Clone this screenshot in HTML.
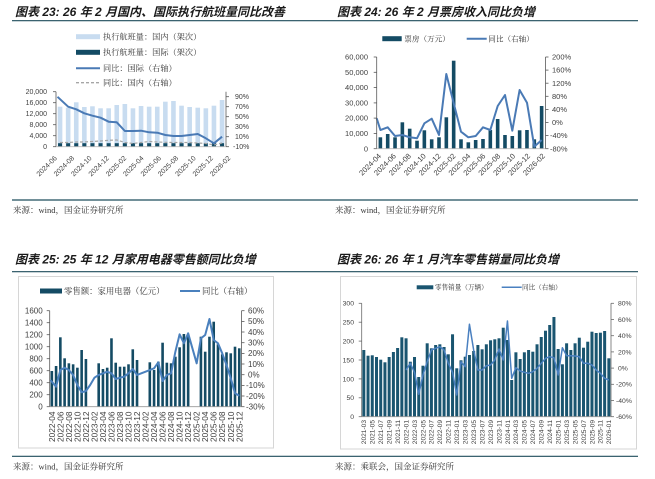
<!DOCTYPE html>
<html><head><meta charset="utf-8">
<style>
html,body{margin:0;padding:0;background:#fff;}
svg{display:block;}
.t{font-family:"Liberation Sans","Noto Sans CJK SC",sans-serif;font-weight:bold;font-style:italic;font-size:12px;fill:#1a1a1a;}
.s{font-family:"Liberation Serif","Noto Serif CJK SC",serif;font-size:8.5px;fill:#333;}
.lg{font-family:"Liberation Serif","Noto Serif CJK SC",serif;fill:#333;}
.ax{font-family:"Liberation Sans",sans-serif;fill:#404040;}
</style></head><body>
<svg width="655" height="479" viewBox="0 0 655 479" xmlns="http://www.w3.org/2000/svg">
<!-- rules -->
<g stroke="#1f4d5c" stroke-width="1.2">
<line x1="12" y1="20.7" x2="638" y2="20.7"/>
<line x1="12" y1="200" x2="638" y2="200"/>
<line x1="12" y1="271.7" x2="638" y2="271.7"/>
<line x1="12" y1="456.3" x2="638" y2="456.3"/>
</g>
<text class="t" x="15" y="16">图表 23: 26 年 2 月国内、国际执行航班量同比改善</text>
<text class="t" x="337" y="16">图表 24: 26 年 2 月票房收入同比负增</text>
<text class="t" x="15" y="263.5">图表 25: 25 年 12 月家用电器零售额同比负增</text>
<text class="t" x="337" y="263.5">图表 26: 26 年 1 月汽车零售销量同比负增</text>
<text class="s" x="13" y="213">来源：wind，国金证券研究所</text>
<text class="s" x="335" y="213">来源：wind，国金证券研究所</text>
<text class="s" x="13" y="469.5">来源：wind，国金证券研究所</text>
<text class="s" x="335" y="469.5">来源：乘联会，国金证券研究所</text>

<!-- ============ Chart 23 ============ -->
<g class="lg" font-size="8.2">
<rect x="76" y="34.2" width="24" height="5" fill="#c8dcf0"/>
<text x="103" y="39.5">执行航班量：国内（架次）</text>
<rect x="76" y="49.8" width="24" height="5" fill="#134b64"/>
<text x="103" y="55">执行航班量：国际（架次）</text>
<line x1="76" y1="68.3" x2="100" y2="68.3" stroke="#4a7ab5" stroke-width="2"/>
<text x="103" y="71.2">同比：国际（右轴）</text>
<line x1="76" y1="82.7" x2="100" y2="82.7" stroke="#a6a6a6" stroke-width="1.3" stroke-dasharray="3,2"/>
<text x="103" y="85.6">同比：国内（右轴）</text>
</g>
<g fill="#c8dcf0">
<rect x="57.75" y="106.7" width="4.6" height="40"/>
<rect x="65.85" y="107.7" width="4.6" height="39"/>
<rect x="73.95" y="102.3" width="4.6" height="44.4"/>
<rect x="82.05" y="107" width="4.6" height="39.7"/>
<rect x="90.15" y="106.3" width="4.6" height="40.4"/>
<rect x="98.25" y="108.3" width="4.6" height="38.4"/>
<rect x="106.35" y="108.3" width="4.6" height="38.4"/>
<rect x="114.45" y="105" width="4.6" height="41.7"/>
<rect x="122.55" y="104" width="4.6" height="42.7"/>
<rect x="130.65" y="108.3" width="4.6" height="38.4"/>
<rect x="138.75" y="106" width="4.6" height="40.7"/>
<rect x="146.85" y="106.7" width="4.6" height="40"/>
<rect x="154.95" y="106.7" width="4.6" height="40"/>
<rect x="163.05" y="101.7" width="4.6" height="45"/>
<rect x="171.15" y="101" width="4.6" height="45.7"/>
<rect x="179.25" y="105.7" width="4.6" height="41"/>
<rect x="187.35" y="107" width="4.6" height="39.7"/>
<rect x="195.45" y="107.7" width="4.6" height="39"/>
<rect x="203.55" y="108.3" width="4.6" height="38.4"/>
<rect x="211.65" y="105.7" width="4.6" height="41"/>
<rect x="219.75" y="100" width="4.6" height="46.7"/>
</g>
<g fill="#134b64">
<rect x="58.05" y="143.2" width="4" height="3.5"/><rect x="66.15" y="143.2" width="4" height="3.5"/>
<rect x="74.25" y="143.2" width="4" height="3.5"/><rect x="82.35" y="143.2" width="4" height="3.5"/>
<rect x="90.45" y="143.2" width="4" height="3.5"/><rect x="98.55" y="143.2" width="4" height="3.5"/>
<rect x="106.65" y="143.2" width="4" height="3.5"/><rect x="114.75" y="143.2" width="4" height="3.5"/>
<rect x="122.85" y="143.2" width="4" height="3.5"/><rect x="130.95" y="143.2" width="4" height="3.5"/>
<rect x="139.05" y="143.2" width="4" height="3.5"/><rect x="147.15" y="143.2" width="4" height="3.5"/>
<rect x="155.25" y="143.2" width="4" height="3.5"/><rect x="163.35" y="143.2" width="4" height="3.5"/>
<rect x="171.45" y="143.2" width="4" height="3.5"/><rect x="179.55" y="143.2" width="4" height="3.5"/>
<rect x="187.65" y="143.2" width="4" height="3.5"/><rect x="195.75" y="143.2" width="4" height="3.5"/>
<rect x="203.85" y="143.2" width="4" height="3.5"/><rect x="211.95" y="143.2" width="4" height="3.5"/>
<rect x="220.05" y="143.2" width="4" height="3.5"/>
</g>
<polyline fill="none" stroke="#a6a6a6" stroke-width="1.2" stroke-dasharray="3,2" points="60.05,142.5 68.15,142.5 76.25,142 84.35,142 92.45,141.5 100.55,141 108.65,140.3 116.75,140 124.85,142.5 132.95,143.5 141.05,142.5 149.15,141.5 157.25,142 165.35,142.3 173.45,142.5 181.55,142.5 189.65,142.5 197.75,143 205.85,143.5 213.95,145 222.05,143"/>
<polyline fill="none" stroke="#4a7ab5" stroke-width="2" stroke-linejoin="round" points="57.5,96.8 68.15,106.7 76.25,109.3 84.35,113.3 92.45,115.7 100.55,117.7 108.65,121.7 116.75,122.3 124.85,131 132.95,131 141.05,130.7 149.15,132.3 157.25,132.7 165.35,135 173.45,136 181.55,136 189.65,135 197.75,134 205.85,138.3 213.95,143.3 222.05,136.7"/>
<g stroke="#595959" stroke-width="0.8">
<line x1="56" y1="91.7" x2="56" y2="146.7"/>
<line x1="53" y1="91.7" x2="56" y2="91.7"/><line x1="53" y1="102.7" x2="56" y2="102.7"/><line x1="53" y1="113.7" x2="56" y2="113.7"/><line x1="53" y1="124.7" x2="56" y2="124.7"/><line x1="53" y1="135.7" x2="56" y2="135.7"/><line x1="53" y1="146.7" x2="56" y2="146.7"/>
<line x1="226" y1="91.7" x2="226" y2="146.7"/>
<line x1="226" y1="96.7" x2="229" y2="96.7"/><line x1="226" y1="106.7" x2="229" y2="106.7"/><line x1="226" y1="116.7" x2="229" y2="116.7"/><line x1="226" y1="126.7" x2="229" y2="126.7"/><line x1="226" y1="136.7" x2="229" y2="136.7"/><line x1="226" y1="146.7" x2="229" y2="146.7"/>
<line x1="56" y1="146.7" x2="226" y2="146.7" stroke="#bbb"/>
</g>
<g class="ax" font-size="7" text-anchor="end">
<text x="47" y="94.2">20,000</text><text x="47" y="105.2">16,000</text><text x="47" y="116.2">12,000</text><text x="47" y="127.2">8,000</text><text x="47" y="138.2">4,000</text><text x="47" y="149.2">0</text>
</g>
<g class="ax" font-size="7">
<text x="235" y="99.2">90%</text><text x="235" y="109.2">70%</text><text x="235" y="119.2">50%</text><text x="235" y="129.2">30%</text><text x="235" y="139.2">10%</text><text x="233" y="149.2">-10%</text>
</g>
<g class="ax" font-size="7" text-anchor="end">
<text transform="translate(57.4,158.6) rotate(-45)">2024-06</text>
<text transform="translate(74.7,158.6) rotate(-45)">2024-08</text>
<text transform="translate(92.1,158.6) rotate(-45)">2024-10</text>
<text transform="translate(109.4,158.6) rotate(-45)">2024-12</text>
<text transform="translate(126.8,158.6) rotate(-45)">2025-02</text>
<text transform="translate(144.1,158.6) rotate(-45)">2025-04</text>
<text transform="translate(161.5,158.6) rotate(-45)">2025-06</text>
<text transform="translate(178.8,158.6) rotate(-45)">2025-08</text>
<text transform="translate(196.2,158.6) rotate(-45)">2025-10</text>
<text transform="translate(213.5,158.6) rotate(-45)">2025-12</text>
<text transform="translate(230.9,158.6) rotate(-45)">2026-02</text>
</g>

<!-- ============ Chart 24 ============ -->
<g class="lg" font-size="7.6">
<rect x="382.3" y="36.2" width="19.4" height="5" fill="#144b64"/>
<text x="404.3" y="41.4">票房（万元）</text>
<line x1="466.7" y1="38.7" x2="486.7" y2="38.7" stroke="#4a7ab5" stroke-width="2"/>
<text x="488.3" y="41.4">同比（右轴）</text>
</g>
<g fill="#144b64">
<rect x="378.57" y="137.3" width="3.6" height="11.4"/>
<rect x="385.9" y="134" width="3.6" height="14.7"/>
<rect x="393.23" y="137.3" width="3.6" height="11.4"/>
<rect x="400.56" y="122.3" width="3.6" height="26.4"/>
<rect x="407.89" y="128.7" width="3.6" height="20"/>
<rect x="415.22" y="140.7" width="3.6" height="8"/>
<rect x="422.55" y="130.3" width="3.6" height="18.4"/>
<rect x="429.88" y="139.3" width="3.6" height="9.4"/>
<rect x="437.21" y="137.3" width="3.6" height="11.4"/>
<rect x="444.54" y="117.3" width="3.6" height="31.4"/>
<rect x="451.87" y="60.7" width="3.6" height="88"/>
<rect x="459.2" y="139.3" width="3.6" height="9.4"/>
<rect x="466.53" y="142.3" width="3.6" height="6.4"/>
<rect x="473.86" y="140" width="3.6" height="8.7"/>
<rect x="481.19" y="139" width="3.6" height="9.7"/>
<rect x="488.52" y="130" width="3.6" height="18.7"/>
<rect x="495.85" y="119" width="3.6" height="29.7"/>
<rect x="503.18" y="135" width="3.6" height="13.7"/>
<rect x="510.51" y="136" width="3.6" height="12.7"/>
<rect x="517.84" y="130.3" width="3.6" height="18.4"/>
<rect x="525.17" y="130" width="3.6" height="18.7"/>
<rect x="532.5" y="139.3" width="3.6" height="9.4"/>
<rect x="539.83" y="106" width="3.6" height="42.7"/>
</g>
<polyline fill="none" stroke="#4a7ab5" stroke-width="2" stroke-linejoin="round" points="376.7,118.3 380.4,130 387.7,127.3 395,136 402.4,135 409.7,137.3 417,138.3 424.4,123.3 431.7,118.7 439,135 446.3,74 453.7,103.3 461,131.7 468.3,137.3 475.7,136 483,127.3 490.3,130 497.7,106 505,95 512.3,130.7 519.6,90 527,102.7 534.3,146.7 541.6,140"/>
<g stroke="#595959" stroke-width="0.8">
<line x1="376.7" y1="57" x2="376.7" y2="148.7"/>
<line x1="373.7" y1="57" x2="376.7" y2="57"/><line x1="373.7" y1="72.3" x2="376.7" y2="72.3"/><line x1="373.7" y1="87.6" x2="376.7" y2="87.6"/><line x1="373.7" y1="102.9" x2="376.7" y2="102.9"/><line x1="373.7" y1="118.1" x2="376.7" y2="118.1"/><line x1="373.7" y1="133.4" x2="376.7" y2="133.4"/><line x1="373.7" y1="148.7" x2="376.7" y2="148.7"/>
<line x1="545.5" y1="57" x2="545.5" y2="148.7"/>
<line x1="545.5" y1="57" x2="548.5" y2="57"/><line x1="545.5" y1="70.1" x2="548.5" y2="70.1"/><line x1="545.5" y1="83.2" x2="548.5" y2="83.2"/><line x1="545.5" y1="96.3" x2="548.5" y2="96.3"/><line x1="545.5" y1="109.4" x2="548.5" y2="109.4"/><line x1="545.5" y1="122.5" x2="548.5" y2="122.5"/><line x1="545.5" y1="135.6" x2="548.5" y2="135.6"/><line x1="545.5" y1="148.7" x2="548.5" y2="148.7"/>
<line x1="376.7" y1="148.7" x2="545.5" y2="148.7" stroke="#bbb"/>
</g>
<g class="ax" font-size="7.5" text-anchor="end">
<text x="368" y="59.6">60,000</text><text x="368" y="74.9">50,000</text><text x="368" y="90.2">40,000</text><text x="368" y="105.5">30,000</text><text x="368" y="120.7">20,000</text><text x="368" y="136">10,000</text><text x="368" y="151.3">0</text>
</g>
<g class="ax" font-size="7.5">
<text x="552" y="59.6">200%</text><text x="552" y="72.7">160%</text><text x="552" y="85.8">120%</text><text x="552" y="98.9">80%</text><text x="552" y="112">40%</text><text x="552" y="125.1">0%</text><text x="550" y="138.2">-40%</text><text x="550" y="151.3">-80%</text>
</g>
<g class="ax" font-size="7.5" text-anchor="end">
<text transform="translate(381.6,156.5) rotate(-45)">2024-04</text>
<text transform="translate(396.5,156.5) rotate(-45)">2024-06</text>
<text transform="translate(411.4,156.5) rotate(-45)">2024-08</text>
<text transform="translate(426.3,156.5) rotate(-45)">2024-10</text>
<text transform="translate(441.2,156.5) rotate(-45)">2024-12</text>
<text transform="translate(456.1,156.5) rotate(-45)">2025-02</text>
<text transform="translate(471,156.5) rotate(-45)">2025-04</text>
<text transform="translate(485.9,156.5) rotate(-45)">2025-06</text>
<text transform="translate(500.8,156.5) rotate(-45)">2025-08</text>
<text transform="translate(515.7,156.5) rotate(-45)">2025-10</text>
<text transform="translate(530.6,156.5) rotate(-45)">2025-12</text>
<text transform="translate(545.5,156.5) rotate(-45)">2026-02</text>
</g>

<!-- ============ Chart 25 ============ -->
<rect x="18.5" y="276.5" width="255" height="171.5" fill="#fff" stroke="#d6d6d6" stroke-width="1"/>
<g class="lg" font-size="8.4">
<rect x="40" y="288.5" width="22" height="5" fill="#144b64"/>
<text x="64" y="294">零售额：家用电器（亿元）</text>
<line x1="180" y1="291" x2="200" y2="291" stroke="#4a80bd" stroke-width="2"/>
<text x="202" y="294">同比（右轴）</text>
</g>
<g fill="#144b64">
<rect x="50.53" y="371" width="2.6" height="35.7"/>
<rect x="54.79" y="366" width="2.6" height="40.7"/>
<rect x="59.05" y="337.3" width="2.6" height="69.4"/>
<rect x="63.31" y="358.3" width="2.6" height="48.4"/>
<rect x="67.57" y="363.3" width="2.6" height="43.4"/>
<rect x="71.83" y="364.3" width="2.6" height="42.4"/>
<rect x="76.09" y="367.7" width="2.6" height="39"/>
<rect x="80.35" y="350" width="2.6" height="56.7"/>
<rect x="84.61" y="359" width="2.6" height="47.7"/>
<rect x="97.39" y="363.3" width="2.6" height="43.4"/>
<rect x="101.65" y="369" width="2.6" height="37.7"/>
<rect x="105.91" y="367.7" width="2.6" height="39"/>
<rect x="110.17" y="338.3" width="2.6" height="68.4"/>
<rect x="114.43" y="362.7" width="2.6" height="44"/>
<rect x="118.69" y="366.7" width="2.6" height="40"/>
<rect x="122.95" y="366.7" width="2.6" height="40"/>
<rect x="127.21" y="364.3" width="2.6" height="42.4"/>
<rect x="131.47" y="349.3" width="2.6" height="57.4"/>
<rect x="135.73" y="360" width="2.6" height="46.7"/>
<rect x="148.51" y="362.3" width="2.6" height="44.4"/>
<rect x="152.77" y="370" width="2.6" height="36.7"/>
<rect x="157.03" y="361.7" width="2.6" height="45"/>
<rect x="161.29" y="342.7" width="2.6" height="64"/>
<rect x="165.55" y="362.7" width="2.6" height="44"/>
<rect x="169.81" y="363.3" width="2.6" height="43.4"/>
<rect x="174.07" y="356.7" width="2.6" height="50"/>
<rect x="178.33" y="347.3" width="2.6" height="59.4"/>
<rect x="182.59" y="334" width="2.6" height="72.7"/>
<rect x="186.85" y="335" width="2.6" height="71.7"/>
<rect x="199.63" y="336.7" width="2.6" height="70"/>
<rect x="203.89" y="351.7" width="2.6" height="55"/>
<rect x="208.15" y="336.7" width="2.6" height="70"/>
<rect x="212.41" y="321.7" width="2.6" height="85"/>
<rect x="216.67" y="344.3" width="2.6" height="62.4"/>
<rect x="220.93" y="354.3" width="2.6" height="52.4"/>
<rect x="225.19" y="352.3" width="2.6" height="54.4"/>
<rect x="229.45" y="353.3" width="2.6" height="53.4"/>
<rect x="233.71" y="346.7" width="2.6" height="60"/>
<rect x="237.97" y="348.3" width="2.6" height="58.4"/>
</g>
<polyline fill="none" stroke="#4a80bd" stroke-width="2" stroke-linejoin="round" points="50,380 51.83,381.7 56.09,386.7 60.35,370 64.61,367.7 68.87,370 73.13,375 77.39,385 81.65,392.3 85.91,391 90.17,385 94.43,377.7 98.69,375 102.95,373.3 107.21,371.7 111.47,373.3 115.73,379 119.99,377.7 124.25,376.7 128.51,373.3 132.77,369 137.03,375 141.29,373.3 145.55,371.7 149.81,370 154.07,368.3 158.33,362.3 162.59,381 166.85,375 171.11,373.3 175.37,351.7 179.63,334.3 183.89,343.3 188.15,333.3 192.41,348.3 196.67,363.3 200.93,338.3 205.19,335 209.45,319 213.71,340 217.97,343.3 222.23,353.3 226.49,365 230.75,378.3 235.01,393.3 239.27,395.7"/>
<g stroke="#595959" stroke-width="0.8">
<line x1="49.7" y1="310.7" x2="49.7" y2="406.7"/>
<line x1="46.7" y1="310.7" x2="49.7" y2="310.7"/><line x1="46.7" y1="322.7" x2="49.7" y2="322.7"/><line x1="46.7" y1="334.7" x2="49.7" y2="334.7"/><line x1="46.7" y1="346.7" x2="49.7" y2="346.7"/><line x1="46.7" y1="358.7" x2="49.7" y2="358.7"/><line x1="46.7" y1="370.7" x2="49.7" y2="370.7"/><line x1="46.7" y1="382.7" x2="49.7" y2="382.7"/><line x1="46.7" y1="394.7" x2="49.7" y2="394.7"/><line x1="46.7" y1="406.7" x2="49.7" y2="406.7"/>
<line x1="241.5" y1="310.7" x2="241.5" y2="406.7"/>
<line x1="241.5" y1="310.7" x2="244.5" y2="310.7"/><line x1="241.5" y1="321.4" x2="244.5" y2="321.4"/><line x1="241.5" y1="332" x2="244.5" y2="332"/><line x1="241.5" y1="342.7" x2="244.5" y2="342.7"/><line x1="241.5" y1="353.4" x2="244.5" y2="353.4"/><line x1="241.5" y1="364" x2="244.5" y2="364"/><line x1="241.5" y1="374.7" x2="244.5" y2="374.7"/><line x1="241.5" y1="385.4" x2="244.5" y2="385.4"/><line x1="241.5" y1="396" x2="244.5" y2="396"/><line x1="241.5" y1="406.7" x2="244.5" y2="406.7"/>
<line x1="49.7" y1="406.7" x2="241.5" y2="406.7" stroke="#999"/>
</g>
<g class="ax" font-size="8" text-anchor="end">
<text x="42.7" y="313.5">1600</text><text x="42.7" y="325.5">1400</text><text x="42.7" y="337.5">1200</text><text x="42.7" y="349.5">1000</text><text x="42.7" y="361.5">800</text><text x="42.7" y="373.5">600</text><text x="42.7" y="385.5">400</text><text x="42.7" y="397.5">200</text><text x="42.7" y="409.5">0</text>
</g>
<g class="ax" font-size="8">
<text x="248" y="313.5">60%</text><text x="248" y="324.2">50%</text><text x="248" y="334.8">40%</text><text x="248" y="345.5">30%</text><text x="248" y="356.2">20%</text><text x="248" y="366.8">10%</text><text x="248" y="377.5">0%</text><text x="246" y="388.2">-10%</text><text x="246" y="398.8">-20%</text><text x="246" y="409.5">-30%</text>
</g>
<g class="ax" font-size="8.3" text-anchor="end" fill="#333">
<text transform="translate(54.8,411.5) rotate(-90)">2022-04</text>
<text transform="translate(63.35,411.5) rotate(-90)">2022-06</text>
<text transform="translate(71.87,411.5) rotate(-90)">2022-08</text>
<text transform="translate(80.39,411.5) rotate(-90)">2022-10</text>
<text transform="translate(88.91,411.5) rotate(-90)">2022-12</text>
<text transform="translate(97.43,411.5) rotate(-90)">2023-02</text>
<text transform="translate(105.95,411.5) rotate(-90)">2023-04</text>
<text transform="translate(114.47,411.5) rotate(-90)">2023-06</text>
<text transform="translate(122.99,411.5) rotate(-90)">2023-08</text>
<text transform="translate(131.51,411.5) rotate(-90)">2023-10</text>
<text transform="translate(140.03,411.5) rotate(-90)">2023-12</text>
<text transform="translate(148.55,411.5) rotate(-90)">2024-02</text>
<text transform="translate(157.07,411.5) rotate(-90)">2024-04</text>
<text transform="translate(165.59,411.5) rotate(-90)">2024-06</text>
<text transform="translate(174.11,411.5) rotate(-90)">2024-08</text>
<text transform="translate(182.63,411.5) rotate(-90)">2024-10</text>
<text transform="translate(191.15,411.5) rotate(-90)">2024-12</text>
<text transform="translate(199.67,411.5) rotate(-90)">2025-02</text>
<text transform="translate(208.19,411.5) rotate(-90)">2025-04</text>
<text transform="translate(216.71,411.5) rotate(-90)">2025-06</text>
<text transform="translate(225.23,411.5) rotate(-90)">2025-08</text>
<text transform="translate(233.75,411.5) rotate(-90)">2025-10</text>
<text transform="translate(242.27,411.5) rotate(-90)">2025-12</text>
</g>

<!-- ============ Chart 26 ============ -->
<rect x="340.5" y="276.5" width="296" height="172.5" fill="#fff" stroke="#d6d6d6" stroke-width="1"/>
<g class="lg" font-size="6.6">
<rect x="416.7" y="285.3" width="16.6" height="4" fill="#1a5570"/>
<text x="435" y="289.6">零售销量（万辆）</text>
<line x1="501.7" y1="287.3" x2="521.7" y2="287.3" stroke="#4a80c0" stroke-width="1.5"/>
<text x="522" y="289.6">同比（右轴）</text>
</g>
<g fill="#1a5570">
<rect x="362.31" y="350" width="3" height="66.7"/>
<rect x="366.54" y="355.7" width="3" height="61"/>
<rect x="370.76" y="355.3" width="3" height="61.4"/>
<rect x="374.99" y="357" width="3" height="59.7"/>
<rect x="379.21" y="359.7" width="3" height="57"/>
<rect x="383.44" y="362.3" width="3" height="54.4"/>
<rect x="387.66" y="357" width="3" height="59.7"/>
<rect x="391.89" y="352" width="3" height="64.7"/>
<rect x="396.11" y="348" width="3" height="68.7"/>
<rect x="400.34" y="337.3" width="3" height="79.4"/>
<rect x="404.56" y="338.3" width="3" height="78.4"/>
<rect x="408.79" y="361.7" width="3" height="55"/>
<rect x="413.01" y="357" width="3" height="59.7"/>
<rect x="417.24" y="377" width="3" height="39.7"/>
<rect x="421.46" y="365.7" width="3" height="51"/>
<rect x="425.69" y="343.3" width="3" height="73.4"/>
<rect x="429.91" y="348.3" width="3" height="68.4"/>
<rect x="434.14" y="345" width="3" height="71.7"/>
<rect x="438.36" y="344.3" width="3" height="72.4"/>
<rect x="442.59" y="347" width="3" height="69.7"/>
<rect x="446.81" y="354.3" width="3" height="62.4"/>
<rect x="451.04" y="334.3" width="3" height="82.4"/>
<rect x="455.26" y="368.3" width="3" height="48.4"/>
<rect x="459.49" y="360.3" width="3" height="56.4"/>
<rect x="463.71" y="356.7" width="3" height="60"/>
<rect x="467.94" y="355" width="3" height="61.7"/>
<rect x="472.16" y="351" width="3" height="65.7"/>
<rect x="476.39" y="345" width="3" height="71.7"/>
<rect x="480.61" y="349.3" width="3" height="67.4"/>
<rect x="484.84" y="344.3" width="3" height="72.4"/>
<rect x="489.06" y="340.3" width="3" height="76.4"/>
<rect x="493.29" y="339.3" width="3" height="77.4"/>
<rect x="497.51" y="338.3" width="3" height="78.4"/>
<rect x="501.74" y="327.7" width="3" height="89"/>
<rect x="505.96" y="340" width="3" height="76.7"/>
<rect x="510.19" y="380" width="3" height="36.7"/>
<rect x="514.41" y="352.3" width="3" height="64.4"/>
<rect x="518.64" y="359" width="3" height="57.7"/>
<rect x="522.86" y="352.3" width="3" height="64.4"/>
<rect x="527.09" y="350" width="3" height="66.7"/>
<rect x="531.31" y="351.7" width="3" height="65"/>
<rect x="535.54" y="344.3" width="3" height="72.4"/>
<rect x="539.76" y="337" width="3" height="79.7"/>
<rect x="543.99" y="330.7" width="3" height="86"/>
<rect x="548.21" y="325" width="3" height="91.7"/>
<rect x="552.44" y="317" width="3" height="99.7"/>
<rect x="556.66" y="349" width="3" height="67.7"/>
<rect x="560.89" y="364.3" width="3" height="52.4"/>
<rect x="565.11" y="343.3" width="3" height="73.4"/>
<rect x="569.34" y="350" width="3" height="66.7"/>
<rect x="573.56" y="343.3" width="3" height="73.4"/>
<rect x="577.79" y="337.7" width="3" height="79"/>
<rect x="582.01" y="347.7" width="3" height="69"/>
<rect x="586.24" y="341.7" width="3" height="75"/>
<rect x="590.46" y="331.7" width="3" height="85"/>
<rect x="594.69" y="333" width="3" height="83.7"/>
<rect x="598.91" y="332.7" width="3" height="84"/>
<rect x="603.14" y="331" width="3" height="85.7"/>
<rect x="607.36" y="358.3" width="3" height="58.4"/>
</g>
<polyline fill="none" stroke="#4a80c0" stroke-width="1.5" stroke-linejoin="round" points="406.06,370 410.29,363.3 414.51,372.3 418.74,394.3 422.96,375 427.19,361.7 431.41,350 435.64,348.3 439.86,346.7 444.09,350 448.31,363.3 452.54,372.3 456.76,395 460.99,361.7 465.21,366.7 469.44,324.3 473.66,350 477.89,370 482.11,370 486.34,365.7 490.56,365 494.79,360 499.01,349 503.24,360 507.46,321 511.69,378.3 515.91,367.7 520.14,371 524.36,372.3 528.59,373.3 532.81,371.7 537.04,368.3 541.26,363.3 545.49,358.3 549.71,356.7 553.94,357.7 558.16,375 562.39,347.7 566.61,355.7 570.84,355.7 575.06,356 579.29,356.7 583.51,363.3 587.74,363.3 591.96,365 596.19,370 600.41,373.3 604.64,378.3 608.86,380"/>
<g stroke="#6a6a6a" stroke-width="0.8">
<line x1="361.7" y1="303.3" x2="361.7" y2="416.7"/>
<line x1="358.7" y1="303.3" x2="361.7" y2="303.3"/><line x1="358.7" y1="322.2" x2="361.7" y2="322.2"/><line x1="358.7" y1="341.1" x2="361.7" y2="341.1"/><line x1="358.7" y1="360" x2="361.7" y2="360"/><line x1="358.7" y1="378.9" x2="361.7" y2="378.9"/><line x1="358.7" y1="397.8" x2="361.7" y2="397.8"/><line x1="358.7" y1="416.7" x2="361.7" y2="416.7"/>
<line x1="611" y1="303.3" x2="611" y2="416.7"/>
<line x1="611" y1="303.3" x2="614" y2="303.3"/><line x1="611" y1="319.5" x2="614" y2="319.5"/><line x1="611" y1="335.7" x2="614" y2="335.7"/><line x1="611" y1="351.9" x2="614" y2="351.9"/><line x1="611" y1="368.1" x2="614" y2="368.1"/><line x1="611" y1="384.3" x2="614" y2="384.3"/><line x1="611" y1="400.5" x2="614" y2="400.5"/><line x1="611" y1="416.7" x2="614" y2="416.7"/>
<line x1="361.7" y1="416.7" x2="611" y2="416.7" stroke="#999"/>
</g>
<g class="ax" font-size="6.8" text-anchor="end" fill="#555">
<text x="354" y="305.7">300</text><text x="354" y="324.6">250</text><text x="354" y="343.5">200</text><text x="354" y="362.4">150</text><text x="354" y="381.3">100</text><text x="354" y="400.2">50</text><text x="354" y="419.1">0</text>
</g>
<g class="ax" font-size="6.8" fill="#555">
<text x="618" y="305.7">80%</text><text x="618" y="321.9">60%</text><text x="618" y="338.1">40%</text><text x="618" y="354.3">20%</text><text x="618" y="370.5">0%</text><text x="616" y="386.7">-20%</text><text x="616" y="402.9">-40%</text><text x="616" y="419.1">-60%</text>
</g>
<g class="ax" font-size="6.6" text-anchor="end" fill="#555">
<text transform="translate(366.1,420) rotate(-90)">2021-03</text>
<text transform="translate(374.56,420) rotate(-90)">2021-05</text>
<text transform="translate(383.01,420) rotate(-90)">2021-07</text>
<text transform="translate(391.46,420) rotate(-90)">2021-09</text>
<text transform="translate(399.91,420) rotate(-90)">2021-11</text>
<text transform="translate(408.36,420) rotate(-90)">2022-01</text>
<text transform="translate(416.81,420) rotate(-90)">2022-03</text>
<text transform="translate(425.26,420) rotate(-90)">2022-05</text>
<text transform="translate(433.71,420) rotate(-90)">2022-07</text>
<text transform="translate(442.16,420) rotate(-90)">2022-09</text>
<text transform="translate(450.61,420) rotate(-90)">2022-11</text>
<text transform="translate(459.06,420) rotate(-90)">2023-01</text>
<text transform="translate(467.51,420) rotate(-90)">2023-03</text>
<text transform="translate(475.96,420) rotate(-90)">2023-05</text>
<text transform="translate(484.41,420) rotate(-90)">2023-07</text>
<text transform="translate(492.86,420) rotate(-90)">2023-09</text>
<text transform="translate(501.31,420) rotate(-90)">2023-11</text>
<text transform="translate(509.76,420) rotate(-90)">2024-01</text>
<text transform="translate(518.21,420) rotate(-90)">2024-03</text>
<text transform="translate(526.66,420) rotate(-90)">2024-05</text>
<text transform="translate(535.11,420) rotate(-90)">2024-07</text>
<text transform="translate(543.56,420) rotate(-90)">2024-09</text>
<text transform="translate(552.01,420) rotate(-90)">2024-11</text>
<text transform="translate(560.46,420) rotate(-90)">2025-01</text>
<text transform="translate(568.91,420) rotate(-90)">2025-03</text>
<text transform="translate(577.36,420) rotate(-90)">2025-05</text>
<text transform="translate(585.81,420) rotate(-90)">2025-07</text>
<text transform="translate(594.26,420) rotate(-90)">2025-09</text>
<text transform="translate(602.71,420) rotate(-90)">2025-11</text>
<text transform="translate(611.16,420) rotate(-90)">2026-01</text>
</g>
</svg>
</body></html>
